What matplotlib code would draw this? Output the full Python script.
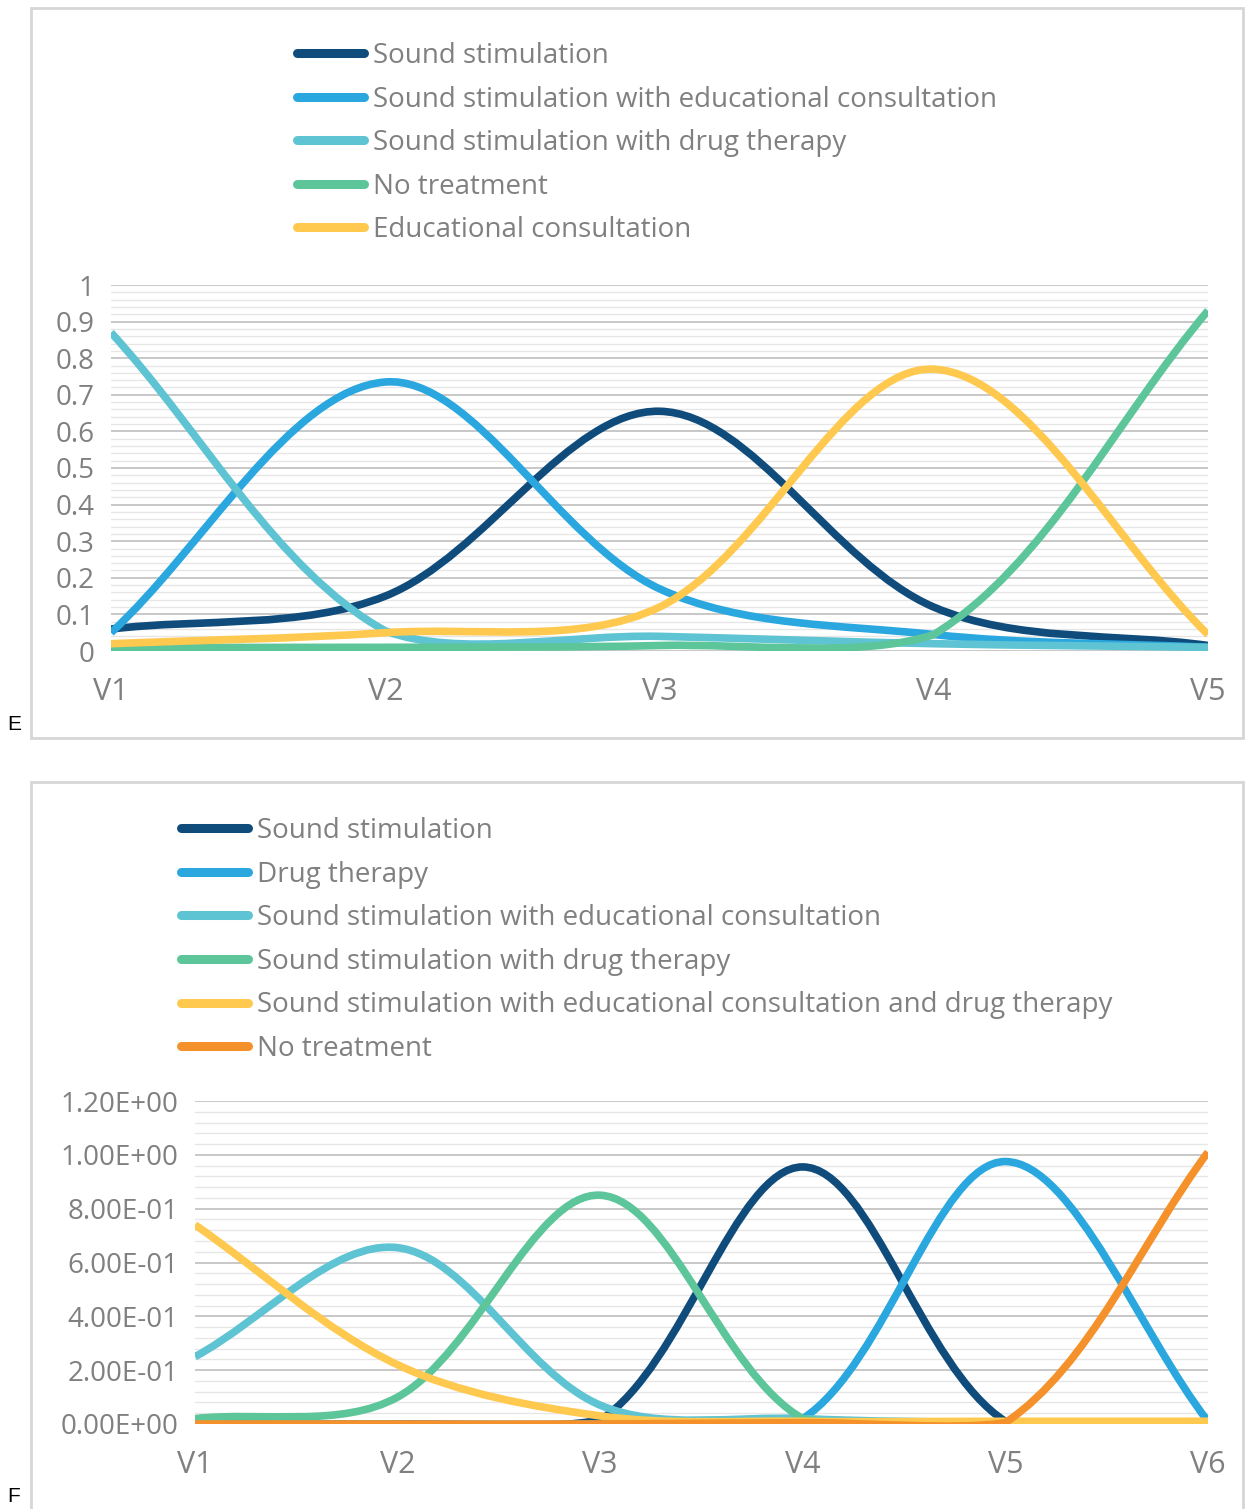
import matplotlib
matplotlib.use('Agg')
import matplotlib.pyplot as plt
import numpy as np
from matplotlib.path import Path
from matplotlib.patches import PathPatch, Rectangle
from matplotlib.lines import Line2D
from matplotlib.ticker import MultipleLocator, FuncFormatter

# ---------------- data: panel E ----------------
e_categories = ['V1', 'V2', 'V3', 'V4', 'V5']
e_series_names = ['Sound stimulation',
                  'Sound stimulation with educational consultation',
                  'Sound stimulation with drug therapy',
                  'No treatment',
                  'Educational consultation']
e_sound = [0.06, 0.15, 0.655, 0.12, 0.015]
e_sound_edu = [0.05, 0.735, 0.17, 0.045, 0.01]
e_sound_drug = [0.87, 0.055, 0.04, 0.02, 0.01]
e_none = [0.01, 0.01, 0.015, 0.045, 0.93]
e_edu = [0.02, 0.05, 0.12, 0.77, 0.045]

# ---------------- data: panel F ----------------
f_categories = ['V1', 'V2', 'V3', 'V4', 'V5', 'V6']
f_series_names = ['Sound stimulation',
                  'Drug therapy',
                  'Sound stimulation with educational consultation',
                  'Sound stimulation with drug therapy',
                  'Sound stimulation with educational consultation and drug therapy',
                  'No treatment']
f_sound = [0.0, 0.0, 0.015, 0.955, 0.01, 0.005]
f_drug = [0.0, 0.0, 0.0, 0.02, 0.975, 0.01]
f_sound_edu = [0.25, 0.655, 0.07, 0.02, 0.005, 0.005]
f_sound_drug = [0.02, 0.10, 0.85, 0.02, 0.005, 0.005]
f_sound_edu_drug = [0.74, 0.22, 0.03, 0.01, 0.01, 0.01]
f_none = [0.0, 0.0, 0.0, 0.005, 0.005, 1.01]

# ---------------- style ----------------
NAVY = '#0f4c7c'
BLUE = '#2aa7df'
TEAL = '#5ec3d2'
GREEN = '#5dc59a'
YELLOW = '#ffc94f'
ORANGE = '#f4912a'
e_colors = [NAVY, BLUE, TEAL, GREEN, YELLOW]
f_colors = [NAVY, BLUE, TEAL, GREEN, YELLOW, ORANGE]

FONT = ['Open Sans', 'DejaVu Sans']
TXT = '#808080'
W, H = 1245, 1509

fig = plt.figure(figsize=(W / 100, H / 100), dpi=100)
fig.patch.set_facecolor('white')


def fx(px):
    return px / W


def fy(py):
    return 1 - py / H


def smooth_path(ax, xs, ys, floor):
    """Excel-like smoothed line: cubic Bezier segments in display space."""
    pts = ax.transData.transform(np.column_stack([xs, ys]))
    n = len(pts)
    verts = [pts[0]]
    codes = [Path.MOVETO]
    for i in range(n - 1):
        p0 = pts[i - 1] if i > 0 else pts[i]
        p1 = pts[i]
        p2 = pts[i + 1]
        p3 = pts[i + 2] if i + 2 < n else pts[i + 1]
        d01 = np.hypot(*(p1 - p0))
        d12 = np.hypot(*(p2 - p1))
        d23 = np.hypot(*(p3 - p2))
        c1 = p1 + (p2 - p0) * (d12 / (d01 + d12)) / 3.0
        c2 = p2 - (p3 - p1) * (d12 / (d12 + d23)) / 3.0
        verts += [c1, c2, p2]
        codes += [Path.CURVE4] * 3
    data = ax.transData.inverted().transform(np.array(verts))
    # keep control points from diving far below the plot floor
    data[:, 1] = np.maximum(data[:, 1], floor)
    return Path(data, codes)


def make_panel(box, axrect, cats, names, series, colors, ymax, major, minor,
               fmt, legend_xy, label, label_xy):
    # frame
    x0, y0, x1, y1 = box
    fig.add_artist(Rectangle((fx(x0), fy(y1)), fx(x1) - fx(x0), fy(y0) - fy(y1),
                             transform=fig.transFigure, fill=False,
                             edgecolor='#d6d6d6', lw=2.0))
    fig.text(fx(label_xy[0]), fy(label_xy[1]), label, fontsize=15,
             family=['Liberation Sans', 'DejaVu Sans'], ha='center', va='center',
             color='black')
    l, t, r, b = axrect
    ax = fig.add_axes([fx(l), fy(b), fx(r) - fx(l), fy(t) - fy(b)])
    ax.set_facecolor('none')
    n = len(cats)
    ax.set_xlim(0, n - 1)
    ax.set_ylim(0, ymax)
    for s in ax.spines.values():
        s.set_visible(False)
    ax.set_xticks(range(n))
    ax.set_xticklabels(cats)
    ax.yaxis.set_major_locator(MultipleLocator(major))
    ax.yaxis.set_minor_locator(MultipleLocator(minor))
    ax.yaxis.set_major_formatter(FuncFormatter(fmt))
    ax.tick_params(which='both', length=0)
    ax.tick_params(axis='y', pad=12, labelsize=20, labelcolor=TXT)
    ax.tick_params(axis='x', pad=19, labelsize=22, labelcolor=TXT)
    for lab in ax.get_xticklabels() + ax.get_yticklabels():
        lab.set_family(FONT)
    ax.yaxis.grid(True, which='major', color='#c8c8c8', lw=1.4)
    ax.yaxis.grid(True, which='minor', color='#e6e6e6', lw=1.0)
    ax.set_axisbelow(True)
    xs = np.arange(n)
    handles = []
    for ys, c, nm in zip(series, colors, names):
        p = smooth_path(ax, xs, ys, floor=-0.02 * ymax)
        ax.add_patch(PathPatch(p, facecolor='none', edgecolor=c, lw=5.5,
                               capstyle='butt', joinstyle='round', zorder=3))
        handles.append(Line2D([], [], color=c, lw=6.5, solid_capstyle='round'))
    fig.legend(handles, names, loc='upper left',
               bbox_to_anchor=(fx(legend_xy[0]), fy(legend_xy[1])),
               frameon=False, handlelength=2.4, handletextpad=0.32,
               labelspacing=0.56, borderaxespad=0, borderpad=0,
               prop={'family': FONT, 'size': 20}, labelcolor=TXT)
    return ax


make_panel(box=(31, 8, 1243, 738), axrect=(111, 285, 1208, 651),
           cats=e_categories, names=e_series_names,
           series=[e_sound, e_sound_edu, e_sound_drug, e_none, e_edu],
           colors=e_colors, ymax=1.0, major=0.1, minor=0.02,
           fmt=lambda v, p: f'{v:g}', legend_xy=(297, 42), label='E',
           label_xy=(14, 724))

make_panel(box=(31, 782, 1243, 1515), axrect=(195, 1101, 1208, 1424),
           cats=f_categories, names=f_series_names,
           series=[f_sound, f_drug, f_sound_edu, f_sound_drug, f_sound_edu_drug, f_none],
           colors=f_colors, ymax=1.2, major=0.2, minor=0.04,
           fmt=lambda v, p: '%.2E' % v, legend_xy=(181, 817), label='F',
           label_xy=(14, 1497))

fig.savefig('out.png', dpi=100, facecolor='white')
